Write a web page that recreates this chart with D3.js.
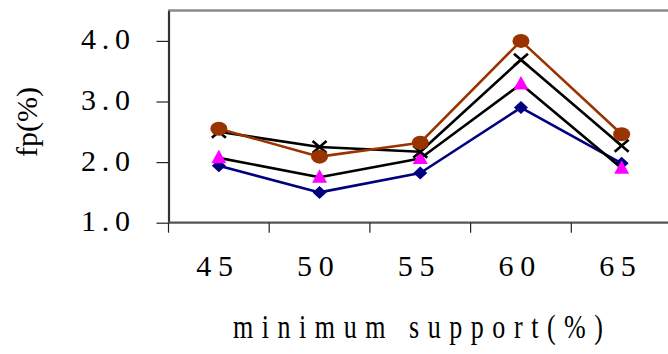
<!DOCTYPE html>
<html><head><meta charset="utf-8">
<script src="https://cdn.jsdelivr.net/npm/d3@7"></script>
<style>html,body{margin:0;padding:0;background:#fff;overflow:hidden}</style>
</head><body>
<svg id="c" width="668" height="354"></svg>
<script>
const categories = ["45", "50", "55", "60", "65"];
const yTicks = [1.0, 2.0, 3.0, 4.0];
const seriesDiamond = [1.94, 1.50, 1.82, 2.90, 1.98];
const seriesTriangle = [2.07, 1.75, 2.06, 3.29, 1.90];
const seriesCross = [2.50, 2.25, 2.17, 3.69, 2.27];
const seriesCircle = [2.55, 2.09, 2.32, 4.00, 2.46];
const xTitle = "minimum support(%)";
const yTitle = "fp(%)";

const svg = d3.select("#c");
const x = d3.scaleBand().domain(categories).range([168.5, 672]).padding(0);
const y = d3.scaleLinear().domain([1, 4.5]).range([222.7, 10.6]);
const font = "'Liberation Serif','Times New Roman',serif";

// frame top
svg.append("line").attr("x1", 168).attr("x2", 668).attr("y1", y(4.5)).attr("y2", y(4.5))
  .attr("stroke", "#8a8a8a").attr("stroke-width", 2.5);

// y axis
const yAxis = svg.append("g").attr("transform", `translate(${x.range()[0]},0)`)
  .call(d3.axisLeft(y).tickValues(yTicks).tickSize(12).tickSizeOuter(0).tickFormat(""));
yAxis.select(".domain").attr("stroke", "#333").attr("stroke-width", 2.2);
yAxis.selectAll(".tick line").attr("stroke", "#222").attr("stroke-width", 1.2);

// y tick labels
svg.append("g").selectAll("text").data(yTicks).join("text")
  .attr("x", 81).attr("y", d => y(d) + 8.5)
  .attr("textLength", 49).attr("lengthAdjust", "spacing")
  .attr("font-family", font).attr("font-size", 30).attr("fill", "#000")
  .text(d => d3.format(".1f")(d));

// x axis
const xBounds = categories.map(c => x(c));
const xAxisG = svg.append("g");
xAxisG.append("line").attr("x1", 168).attr("x2", 668).attr("y1", y(1)).attr("y2", y(1))
  .attr("stroke", "#555").attr("stroke-width", 2.2);
xAxisG.selectAll("line.t").data(xBounds).join("line").attr("class", "t")
  .attr("x1", d => d).attr("x2", d => d).attr("y1", y(1)).attr("y2", y(1) + 10)
  .attr("stroke", "#222").attr("stroke-width", 1.2);

// x tick labels
svg.append("g").selectAll("text").data(categories).join("text")
  .attr("x", d => x(d) + x.bandwidth() / 2 - 22.5).attr("y", 276)
  .attr("textLength", 36.7).attr("lengthAdjust", "spacing")
  .attr("font-family", font).attr("font-size", 30).attr("fill", "#000")
  .text(d => d);

// titles
svg.append("text").attr("transform", "translate(233,338) scale(1,1.3)")
  .attr("textLength", 370).attr("lengthAdjust", "spacing")
  .attr("font-family", font).attr("font-size", 26).attr("fill", "#000").text(xTitle);
svg.append("text").attr("transform", "translate(37,122) rotate(-90)")
  .attr("text-anchor", "middle")
  .attr("font-family", font).attr("font-size", 30).attr("fill", "#000").text(yTitle);

const cx = c => x(c) + x.bandwidth() / 2;
const line = d3.line().x((d, i) => cx(categories[i])).y(d => y(d));

function drawSeries(vals, lineColor, markerFn) {
  const g = svg.append("g");
  g.append("path").datum(vals).attr("d", line).attr("fill", "none")
    .attr("stroke", lineColor).attr("stroke-width", 2.6).attr("stroke-linejoin", "round");
  vals.forEach((v, i) => markerFn(g, cx(categories[i]), y(v)));
}

drawSeries(seriesDiamond, "#000080", (g, px, py) => {
  g.append("path").attr("d", `M${px},${py-6.5}L${px+7},${py}L${px},${py+6.5}L${px-7},${py}Z`).attr("fill", "#000080");
});
drawSeries(seriesTriangle, "#000", (g, px, py) => {
  g.append("path").attr("d", `M${px},${py-8}L${px+7.5},${py+5.5}L${px-7.5},${py+5.5}Z`).attr("fill", "#ff00ff");
});
drawSeries(seriesCross, "#000", (g, px, py) => {
  g.append("path").attr("d", `M${px-7},${py-6}L${px+7},${py+6}M${px-7},${py+6}L${px+7},${py-6}`)
    .attr("stroke", "#000").attr("stroke-width", 2.6).attr("fill", "none");
});
drawSeries(seriesCircle, "#993300", (g, px, py) => {
  g.append("ellipse").attr("cx", px).attr("cy", py).attr("rx", 8.5).attr("ry", 7).attr("fill", "#993300");
});
</script>
</body></html>
